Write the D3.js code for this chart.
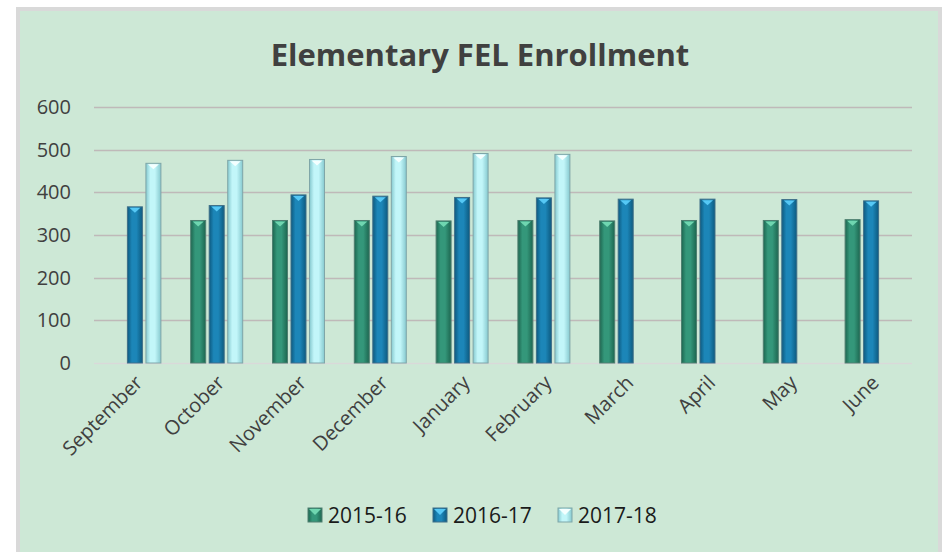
<!DOCTYPE html>
<html>
<head>
<meta charset="utf-8">
<script src="https://cdn.jsdelivr.net/npm/d3@7"></script>
<style>
  html, body { margin: 0; padding: 0; background: #ffffff; overflow: hidden; }
  #wrap { position: relative; width: 944px; height: 552px; }
  #panel {
    position: absolute; left: 16px; top: 7px; width: 918px; height: 545px;
    background: #cde8d6; border: 4px solid #d9d9d9; border-bottom: none;
  }
  svg { position: absolute; left: 0; top: 0; display: block; }
</style>
</head>
<body>
<div id="wrap">
  <div id="panel"></div>
  <svg id="chart"></svg>
</div>
<script>
// datos
var months = ["September", "October", "November", "December", "January",
              "February", "March", "April", "May", "June"];
var seriesNames = ["2015-16", "2016-17", "2017-18"];
var fel1516 = [null, 334, 334, 334, 333, 334, 333, 334, 334, 336];
var fel1617 = [366, 369, 394, 391, 388, 387, 384, 384, 383, 380];
var fel1718 = [468, 475, 477, 484, 491, 489, null, null, null, null];
var yTicks = [0, 100, 200, 300, 400, 500, 600];

var width = 944, height = 552;
var font = "'Open Sans', 'DejaVu Sans', sans-serif";

// colores de cada serie: borde oscuro, centro, brillo de la punta
var colors = [
  { dark: "#1d6650", mid: "#34977a", tip: "#6fd6b0", line: "#4f7f70" },
  { dark: "#0d5a80", mid: "#1c86b8", tip: "#56c8f5", line: "#3f6f88" },
  { dark: "#86c9cf", mid: "#c2f6f9", tip: "#f4ffff", line: "#7fa6a8" }
];

var svg = d3.select("#chart")
    .attr("width", width)
    .attr("height", height);

// gradientes para que las barras parezcan cilindros
var defs = svg.append("defs");
colors.forEach(function (c, i) {
  var g = defs.append("linearGradient")
      .attr("id", "grad" + i)
      .attr("x1", "0%").attr("x2", "100%")
      .attr("y1", "0%").attr("y2", "0%");
  g.append("stop").attr("offset", "0%").attr("stop-color", c.dark);
  g.append("stop").attr("offset", "30%").attr("stop-color", c.mid);
  g.append("stop").attr("offset", "60%").attr("stop-color", c.mid);
  g.append("stop").attr("offset", "100%").attr("stop-color", c.dark);
});

var plotLeft = 94, plotRight = 912, plotTop = 107, plotBottom = 363;

var x0 = d3.scaleBand()
    .domain(months)
    .range([plotLeft, plotRight])
    .padding(0);

var innerWidth = 52;
var x1 = d3.scaleBand()
    .domain(seriesNames)
    .range([(x0.bandwidth() - innerWidth) / 2, (x0.bandwidth() + innerWidth) / 2])
    .paddingInner(0.19);

var y = d3.scaleLinear()
    .domain([0, 600])
    .range([plotBottom, plotTop]);

// líneas de la cuadrícula
svg.append("g")
    .selectAll("line")
    .data(yTicks)
    .enter()
    .append("line")
    .attr("x1", plotLeft).attr("x2", plotRight)
    .attr("y1", function (d) { return Math.round(y(d)) + 0.5; })
    .attr("y2", function (d) { return Math.round(y(d)) + 0.5; })
    .attr("stroke", function (d) { return d === 0 ? "#d9d9d9" : "#bfb9b9"; })
    .attr("stroke-width", 1.5);

// eje Y
var yAxis = d3.axisLeft(y).tickValues(yTicks).tickSize(0).tickPadding(0);
var gy = svg.append("g")
    .attr("transform", "translate(71,0)")
    .call(yAxis);
gy.select(".domain").remove();
gy.selectAll("text")
    .attr("font-family", font)
    .attr("font-size", 20)
    .attr("fill", "#404040");

// eje X con etiquetas giradas
var xAxis = d3.axisBottom(x0).tickSize(0).tickPadding(0);
var gx = svg.append("g")
    .attr("transform", "translate(0," + plotBottom + ")")
    .call(xAxis);
gx.select(".domain").remove();
gx.selectAll("text")
    .attr("font-family", font)
    .attr("font-size", 20)
    .attr("fill", "#404040")
    .attr("text-anchor", "end")
    .attr("dy", 0)
    .attr("y", 0)
    .attr("transform", "translate(9,21) rotate(-45)");

// barras
var allSeries = [fel1516, fel1617, fel1718];
var rows = [];
allSeries.forEach(function (vals, s) {
  vals.forEach(function (v, m) {
    if (v !== null) rows.push({ serie: s, mes: months[m], valor: v });
  });
});

var bars = svg.append("g")
    .selectAll("g")
    .data(rows)
    .enter()
    .append("g")
    .attr("transform", function (d) {
      return "translate(" + (x0(d.mes) + x1(seriesNames[d.serie])) + "," + y(d.valor) + ")";
    });

bars.append("rect")
    .attr("x", 0).attr("y", 0)
    .attr("width", x1.bandwidth())
    .attr("height", function (d) { return plotBottom - y(d.valor); })
    .attr("fill", function (d) { return "url(#grad" + d.serie + ")"; })
    .attr("stroke", function (d) { return colors[d.serie].line; })
    .attr("stroke-width", 1);

// la puntita clara de arriba
bars.append("path")
    .attr("d", function () {
      var w = x1.bandwidth();
      return "M2,1 L" + (w - 2) + ",1 L" + (w / 2) + ",6 Z";
    })
    .attr("fill", function (d) { return colors[d.serie].tip; });

// título
svg.append("text")
    .attr("x", 480).attr("y", 66)
    .attr("text-anchor", "middle")
    .attr("font-family", font)
    .attr("font-size", 31)
    .attr("font-weight", "bold")
    .attr("fill", "#404040")
    .text("Elementary FEL Enrollment");

// leyenda
var legend = svg.append("g")
    .selectAll("g")
    .data(seriesNames)
    .enter()
    .append("g")
    .attr("transform", function (d, i) { return "translate(" + (308 + i * 125) + ",508)"; });

legend.append("rect")
    .attr("width", 14).attr("height", 14)
    .attr("fill", function (d, i) { return "url(#grad" + i + ")"; })
    .attr("stroke", function (d, i) { return colors[i].line; })
    .attr("stroke-width", 1);

legend.append("path")
    .attr("d", "M1,1 L13,1 L7,7 Z")
    .attr("fill", function (d, i) { return colors[i].tip; });

legend.append("text")
    .attr("x", 20).attr("y", 15)
    .attr("font-family", font)
    .attr("font-size", 21)
    .attr("fill", "#1a1a1a")
    .text(function (d) { return d; });
</script>
</body>
</html>
